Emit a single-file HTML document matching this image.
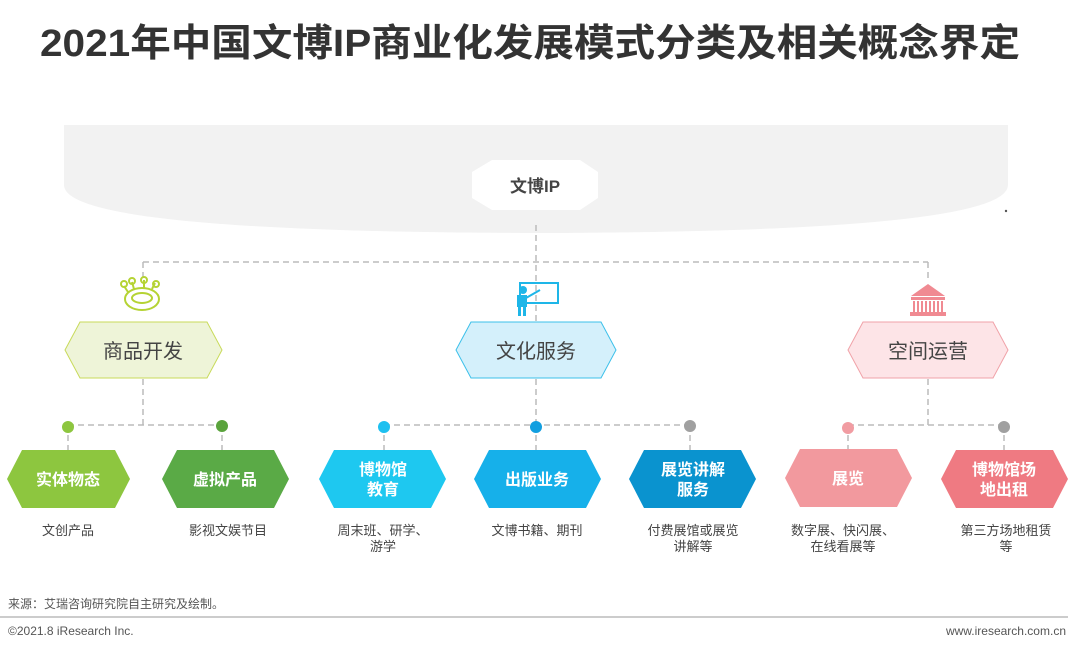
<!DOCTYPE html>
<html><head><meta charset="utf-8"><style>
body{margin:0;width:1080px;height:651px;background:#fff;overflow:hidden}
svg text{font-family:"Liberation Sans","Noto Sans CJK SC",sans-serif}
</style></head><body>
<svg width="1080" height="651" viewBox="0 0 1080 651">
<text x="40" y="56" font-size="38" font-weight="bold" fill="#333" textLength="980" lengthAdjust="spacingAndGlyphs">2021年中国文博IP商业化发展模式分类及相关概念界定</text>
<path d="M64 125 H1008 V185 Q1008 232 536 233 Q64 232 64 185 Z" fill="#f2f2f2"/>
<polygon points="472,172 492,160 580,160 598,172 598,198 580,210 492,210 472,198" fill="#fff"/>
<text x="535" y="192" font-size="17" font-weight="bold" fill="#444" text-anchor="middle">文博IP</text>
<circle cx="1006" cy="211" r="1.2" fill="#555"/>
<g stroke="#bbb" stroke-width="1.5" stroke-dasharray="6,4" fill="none">
<path d="M536 225 V322 M143 262 H928 M143 262 V282 M928 262 V282"/>
<path d="M143 379 V425 M536 379 V425 M928 379 V425"/>
<path d="M68 425 H222 M384 425 H690 M848 425 H1004"/>
<path d="M68 425 V450 M222 425 V450 M384 425 V450 M536 425 V450 M690 425 V450 M848 425 V450 M1004 425 V450"/>
</g>
<g stroke="#b5d334" stroke-width="2" fill="none">
<ellipse cx="142" cy="299" rx="17" ry="11"/><ellipse cx="142" cy="298" rx="10" ry="5"/>
<path d="M128 292 L124 286 M134 289 L132 282 M144 288 V280 M152 289 L155 283"/>
<circle cx="124" cy="284" r="3"/><circle cx="132" cy="281" r="3"/><circle cx="144" cy="280" r="3"/><circle cx="156" cy="284" r="3"/>
</g>
<g fill="#1eb6e8">
<rect x="520" y="283" width="38" height="20" fill="none" stroke="#1eb6e8" stroke-width="2"/>
<circle cx="523" cy="290" r="4"/><rect x="517" y="295" width="10" height="12"/><rect x="518" y="306" width="3" height="10"/><rect x="523" y="306" width="3" height="10"/>
<path d="M526 298 L540 290" stroke="#1eb6e8" stroke-width="2"/>
</g>
<g fill="#f08a92">
<polygon points="928,284 945,296 911,296"/><rect x="911" y="297" width="34" height="3"/>
<path d="M914 301v11M918 301v11M922 301v11M926 301v11M930 301v11M934 301v11M938 301v11M942 301v11" stroke="#f08a92" stroke-width="2"/>
<rect x="910" y="312" width="36" height="4"/>
</g>
<polygon points="65,350 80,322 207,322 222,350 207,378 80,378" fill="#eef4d8" stroke="#c8da5a"/>
<text x="143" y="358" font-size="20" fill="#444" text-anchor="middle">商品开发</text>
<polygon points="456,350 471,322 601,322 616,350 601,378 471,378" fill="#d4f0fb" stroke="#3cc0ea"/>
<text x="536" y="358" font-size="20" fill="#444" text-anchor="middle">文化服务</text>
<polygon points="848,350 863,322 993,322 1008,350 993,378 863,378" fill="#fde4e7" stroke="#f0a2a8"/>
<text x="928" y="358" font-size="20" fill="#444" text-anchor="middle">空间运营</text>
<circle cx="68" cy="427" r="6" fill="#8dc63f"/><circle cx="222" cy="426" r="6" fill="#5aa33c"/>
<circle cx="384" cy="427" r="6" fill="#1ec0f0"/><circle cx="536" cy="427" r="6" fill="#129fe0"/><circle cx="690" cy="426" r="6" fill="#a0a0a0"/>
<circle cx="848" cy="428" r="6" fill="#f19ca2"/><circle cx="1004" cy="427" r="6" fill="#a0a0a0"/>
<g font-size="16" font-weight="bold" fill="#fff" text-anchor="middle">
<polygon points="7,479 22,450 115,450 130,479 115,508 22,508" fill="#8dc63f"/><text x="68" y="485">实体物态</text>
<polygon points="162,479 177,450 274,450 289,479 274,508 177,508" fill="#5aaa46"/><text x="225" y="485">虚拟产品</text>
<polygon points="319,479 334,450 431,450 446,479 431,508 334,508" fill="#1ec8f0"/><text x="383" y="475">博物馆</text><text x="383" y="495">教育</text>
<polygon points="474,479 489,450 586,450 601,479 586,508 489,508" fill="#16b0ea"/><text x="537" y="485">出版业务</text>
<polygon points="629,479 644,450 741,450 756,479 741,508 644,508" fill="#0a93cf"/><text x="693" y="475">展览讲解</text><text x="693" y="495">服务</text>
<polygon points="785,478 800,449 897,449 912,478 897,507 800,507" fill="#f2999e"/><text x="848" y="484">展览</text>
<polygon points="941,479 956,450 1053,450 1068,479 1053,508 956,508" fill="#ef7a82"/><text x="1004" y="475">博物馆场</text><text x="1004" y="495">地出租</text>
</g>
<g font-size="13" fill="#444" text-anchor="middle">
<text x="68" y="535">文创产品</text>
<text x="228" y="535">影视文娱节目</text>
<text x="383" y="535">周末班、研学、</text><text x="383" y="551">游学</text>
<text x="537" y="535">文博书籍、期刊</text>
<text x="693" y="535">付费展馆或展览</text><text x="693" y="551">讲解等</text>
<text x="843" y="535">数字展、快闪展、</text><text x="843" y="551">在线看展等</text>
<text x="1006" y="535">第三方场地租赁</text><text x="1006" y="551">等</text>
</g>
<text x="8" y="608" font-size="12" fill="#555">来源：艾瑞咨询研究院自主研究及绘制。</text>
<line x1="0" y1="617" x2="1068" y2="617" stroke="#999" stroke-width="1"/>
<text x="8" y="635" font-size="12" fill="#555">©2021.8 iResearch Inc.</text>
<text x="1066" y="635" font-size="12" fill="#555" text-anchor="end">www.iresearch.com.cn</text>
</svg>
</body></html>
